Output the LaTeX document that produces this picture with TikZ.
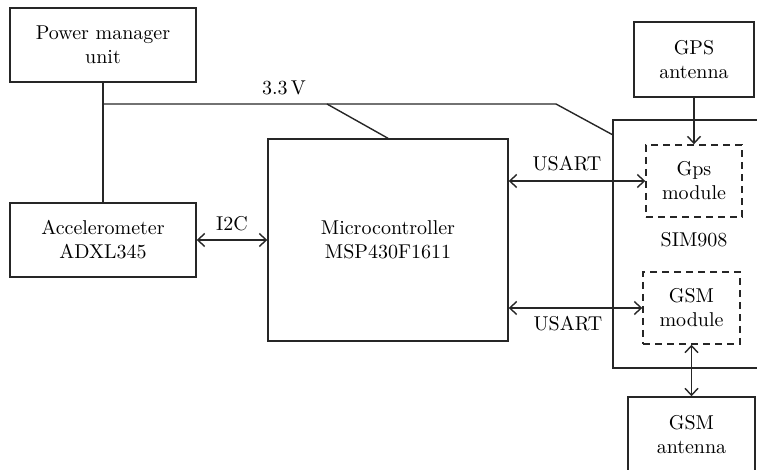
\documentclass[tikz,border=0pt]{standalone}
\usepackage{amsmath,amssymb}
\usepackage{xcolor}
\usetikzlibrary{arrows.meta}

\begin{document}
\begin{tikzpicture}
    [x=0.5pt,y=-0.5pt,font=\normalsize,
    block/.style={shape=rectangle,draw=black!85,line width=0.7pt,align=center,inner sep=0pt},
    dashblock/.style={block,dashed,dash pattern=on 3.5pt off 2.5pt},
    wire/.style={draw=black!85,line width=0.7pt},
    biarc/.style={wire,{Straight Barb[length=3.5pt,width=6.5pt]}-{Straight Barb[length=3.5pt,width=6.5pt]}},
    arc/.style={wire,-{Straight Barb[length=3.5pt,width=6.5pt]}},
    tag/.style={inner sep=1pt}]

    \clip (0,0) rectangle (757,470);
    \useasboundingbox (0,0) rectangle (757,470);

    \node (pmu) [block,minimum width=93pt,minimum height=37pt] at (103,45) {Power manager\\unit};
    \node (acc) [block,minimum width=93pt,minimum height=37pt] at (103,240) {Accelerometer\\ADXL345};
    \node (mcu) [block,minimum width=120pt,minimum height=101pt] at (388,240) {Microcontroller\\MSP430F1611};
    \node (sim) [block,minimum width=90pt,minimum height=124pt] at (703,244) {};
    \node (simlabel) [tag] at (694,240) {SIM908};
    \node (gpsant) [block,minimum width=60pt,minimum height=37.5pt] at (694,59.5) {GPS\\antenna};
    \node (gpsmod) [dashblock,minimum width=48pt,minimum height=36pt] at (694,181) {Gps\\module};
    \node (gsmmod) [dashblock,minimum width=48.5pt,minimum height=36pt] at (691.5,308) {GSM\\module};
    \node (gsmant) [block,minimum width=63.5pt,minimum height=38pt] at (691.5,435) {GSM\\antenna};

    % power rail
    \coordinate (tap) at (103,104);
    \coordinate (bend) at (556,104);
    \coordinate (fork) at (327,104);
    \coordinate (simin) at (613,135);
    \draw [wire] (pmu) -- (acc);
    \draw [wire] (tap) -- (bend) -- (simin);
    \draw [wire] (fork) -- (mcu.north);
    \node (volt) [tag] at (284,88) {3.3\,V};

    \draw [biarc] (acc) -- (mcu);
    \node (i2c) [tag] at (232,224) {I2C};

    \draw [biarc] (gpsmod.west -| mcu.east) -- (gpsmod.west);
    \node (usart1) [tag] at (567,164) {USART};
    \draw [biarc] (gsmmod.west -| mcu.east) -- (gsmmod.west);
    \node (usart2) [tag] at (568,324) {USART};

    \draw [arc] (gpsant) -- (gpsmod);
    \draw [biarc] (gsmmod) -- (gsmant);
  \end{tikzpicture}
\end{document}
